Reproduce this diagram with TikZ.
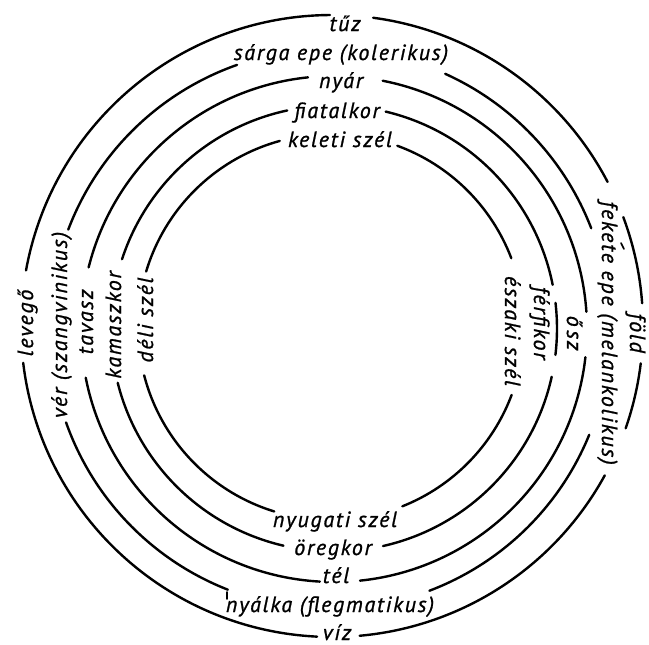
\documentclass[tikz,border=0pt]{standalone}
\usepackage{fontspec}
\setmainfont{PT Sans}
\begin{document}
\begin{tikzpicture}[x=1pt,y=-1pt,
  ring/.style={line width=2.4pt, line cap=round},
  tick/.style={line width=1.6pt, line cap=round},
  lbl/.style={font=\itshape\fontsize{22}{24}\selectfont\addfontfeatures{LetterSpace=8,FakeBold=1}, inner sep=0pt, anchor=base}]
\useasboundingbox (0,0) rectangle (649,645);
\coordinate (c1) at (332,326);
\coordinate (c2) at (330,329);
\coordinate (c3) at (334,329);
\coordinate (c4) at (334,328.5);
\coordinate (c5) at (331,327);
% ring 1
\foreach \a/\b in {-82.4/-27.6, -20.5/-4.2, 6.9/19.2, 28.7/84.9, 92.75/173.2, 190.3/269.6}
  \draw[ring] (c1) ++(\a:311) arc[start angle=\a, end angle=\b, radius=311];
% ring 2
\foreach \a/\b in {-65.7/-21.1, 22.2/69.2, 111.4/160.5, 200.8/250.6}
  \draw[ring] (c2) ++(\a:280) arc[start angle=\a, end angle=\b, radius=280];
% ring 3
\foreach \a/\b in {-78.9/-3.9, 6.4/84.1, 93.2/168.9, 194.1/264.1}
  \draw[ring] (c3) ++(\a:253) arc[start angle=\a, end angle=\b, radius=253];
% ring 4
\foreach \a/\b in {-76.6/-11.3, -6.6/6.8, 12.5/77.3, 103.1/165.9, 198.1/257.9}
  \draw[ring] (c4) ++(\a:223) arc[start angle=\a, end angle=\b, radius=223];
% ring 5
\foreach \a/\b in {-69.9/-20.9, 20.6/68.3, 107.1/165.5, 196.7/254.6}
  \draw[ring] (c5) ++(\a:193) arc[start angle=\a, end angle=\b, radius=193];
% small marks seen in the print
\coordinate (m1a) at (227,592); \coordinate (m1b) at (227,599);
\draw[tick] (m1a) -- (m1b);
\coordinate (m2a) at (621,243); \coordinate (m2b) at (624,249);
\draw[tick] (m2a) -- (m2b);
% labels ring 1
\node[lbl] (tuz) at (345,31) {tűz};
\node[lbl, rotate=-90] (fold) at (630,333) {föld};
\node[lbl] (viz) at (337,640) {víz};
\node[lbl, rotate=90] (levego) at (33,323) {levegő};
% ring 2
\node[lbl] (sarga) at (341,60) {sárga epe (kolerikus)};
\node[lbl, rotate=-90] (fekete) at (602,333) {fekete epe (melankolikus)};
\node[lbl] (nyalka) at (330,612) {nyálka (flegmatikus)};
\node[lbl, rotate=90] (ver) at (67,325) {vér (szangvinikus)};
% ring 3
\node[lbl] (nyar) at (341,88) {nyár};
\node[lbl, rotate=-90] (osz) at (567,333) {ő\,sz};
\node[lbl] (tel) at (336,583) {tél};
\node[lbl, rotate=90] (tavasz) at (93,322) {tavasz};
% ring 4
\node[lbl] (fiatal) at (337,118) {fiatalkor};
\node[lbl, rotate=-90] (ferfi) at (534,323) {férfikor};
\node[lbl] (oreg) at (333,555) {öregkor};
\node[lbl, rotate=90] (kamasz) at (121,325) {kamaszkor};
% ring 5
\node[lbl] (keleti) at (340,147) {keleti szél};
\node[lbl, rotate=-90] (eszaki) at (505,331) {északi szél};
\node[lbl] (nyugati) at (335,527) {nyugati szél};
\node[lbl, rotate=90] (deli) at (153,320) {déli szél};
\end{tikzpicture}
\end{document}
